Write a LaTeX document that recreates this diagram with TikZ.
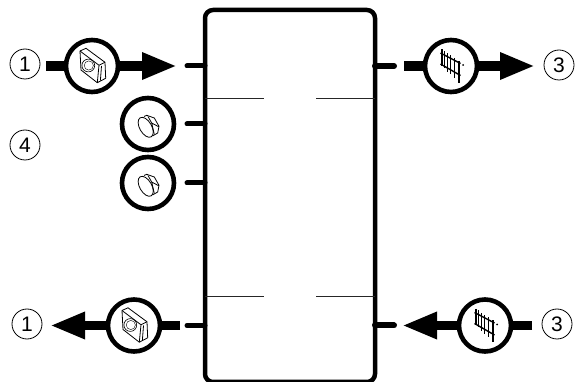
\documentclass[tikz,border=0pt]{standalone}
\usepackage{fontspec}
\setmainfont{Liberation Sans}
\usetikzlibrary{arrows.meta}
\tikzset{
  x=1pt,y=-1pt,
  tank/.style={line width=4.5pt,rounded corners=8pt},
  divider/.style={line width=0.7pt,draw=black!85},
  stub/.style={line width=5pt,line cap=round},
  stubr/.style={line width=6pt,line cap=round},
  bar/.style={line width=9.5pt},
  flow/.style={line width=9.5pt,-{Triangle[length=35pt,width=25pt,inset=0pt]}},
  badge/.style={circle,draw,line width=4.6pt,fill=white,minimum size=52pt,inner sep=0pt},
  tag/.style={circle,draw,line width=0.8pt,minimum size=30pt,inner sep=0pt,font=\fontsize{21}{21}\selectfont},
  icon/.style={line width=0.8pt,line join=round},
  pics/nut/.style={code={
    \draw[icon] (-12,-15)--(-6,-17.7)--(13,-3.7)--(13.7,12.3)--(5.3,16.7)--(-11,4)--cycle;
    \draw[icon] (-12,-15)--(7,-0.7)--(5.3,16.7) (7,-0.7)--(13,-3.7);
    \draw[icon] (9.5,0)--(8.4,14.5);
    \draw[line width=0.6pt] (-3.7,-0.5) circle[radius=6.4];
    \draw[line width=0.4pt] (-3.2,-0.5) circle[radius=4.6];
  }},
  pics/fence/.style={code={
    \foreach \px/\pt/\pb in {-9/-16.7/0,-6.3/-15/1.7,-3.4/-12.5/6,-0.7/-10.5/8.5,3.3/-8/12,8/-5/16.7}
      \draw[line width=1.5pt] (\px,\pt)--(\px,\pb);
    \draw[line width=1.4pt] (-10.5,-13)--(9.5,-2.5) (-10.5,-2)--(9.5,9.5);
    \fill (12.2,-1) circle[radius=1];
  }},
  pics/bolt/.style={code={
    \draw[icon] (-4,-7.5)--(-1.3,-8.7)--(6.3,-6)--(11,2.3)--(9.7,9)--(4.5,12);
    \draw[icon] (0,-7.5)--(3.7,-1)--(10.8,2.8) (3.7,-1)--(6.3,10.5);
    \begin{scope}[shift={(-2.3,3.3)},rotate=30]
      \draw[icon] (0,0) ellipse[x radius=6,y radius=11];
    \end{scope}
  }},
}
\begin{document}
\begin{tikzpicture}
\useasboundingbox (0,0) rectangle (579,382);
\draw[tank] (205,10) rectangle (375,382);
\draw[divider] (205,98) -- (264,98) (316,98) -- (375,98);
\draw[divider] (205,296) -- (264,296) (316,296) -- (375,296);

\node[tag] (t1a) at (25,64) {1};
\node[tag] (t4) at (25,145) {4};
\node[tag] (t3a) at (559,65) {3};
\node[tag] (t1b) at (27,324) {1};
\node[tag] (t3b) at (557,324) {3};

\coordinate (p1a) at (205,66);
\coordinate (p4a) at (205,124);
\coordinate (p4b) at (205,183);
\coordinate (p1b) at (205,325.5);
\coordinate (p3a) at (375,66);
\coordinate (p3b) at (375,325.5);
\coordinate (s1a) at (187,66);
\coordinate (s4a) at (187,124);
\coordinate (s4b) at (187,183);
\coordinate (s1b) at (187,325.5);
\coordinate (s3a) at (394,66);
\coordinate (s3b) at (394,325.5);
\coordinate (b1a) at (46,66);
\coordinate (h1a) at (177,66);
\coordinate (b3a) at (404,66);
\coordinate (h3a) at (535,66);
\coordinate (b1b) at (180,325.5);
\coordinate (h1b) at (50,325.5);
\coordinate (b3b) at (532,325.5);
\coordinate (h3b) at (402,325.5);

\draw[stub] (s1a) -- (p1a);
\draw[stub] (s4a) -- (p4a);
\draw[stub] (s4b) -- (p4b);
\draw[stub] (s1b) -- (p1b);
\draw[stubr] (p3a) -- (s3a);
\draw[stubr] (p3b) -- (s3b);

\node[badge] (n1a) at (92,66) {};
\node[badge] (v4a) at (148,124) {};
\node[badge] (v4b) at (148,183) {};
\node[badge] (n1b) at (134,325.5) {};
\node[badge] (f3a) at (451,66) {};
\node[badge] (f3b) at (485,325.5) {};

\draw[bar] (b1a) -- (n1a);
\draw[flow] (n1a) -- (h1a);
\draw[bar] (b3a) -- (f3a);
\draw[flow] (f3a) -- (h3a);
\draw[bar] (b1b) -- (n1b);
\draw[flow] (n1b) -- (h1b);
\draw[bar] (b3b) -- (f3b);
\draw[flow] (f3b) -- (h3b);

\pic at (n1a) {nut};
\pic at (n1b) {nut};
\pic at (v4a) {bolt};
\pic at (v4b) {bolt};
\pic at (f3a) {fence};
\pic at (f3b) {fence};
\end{tikzpicture}
\end{document}
